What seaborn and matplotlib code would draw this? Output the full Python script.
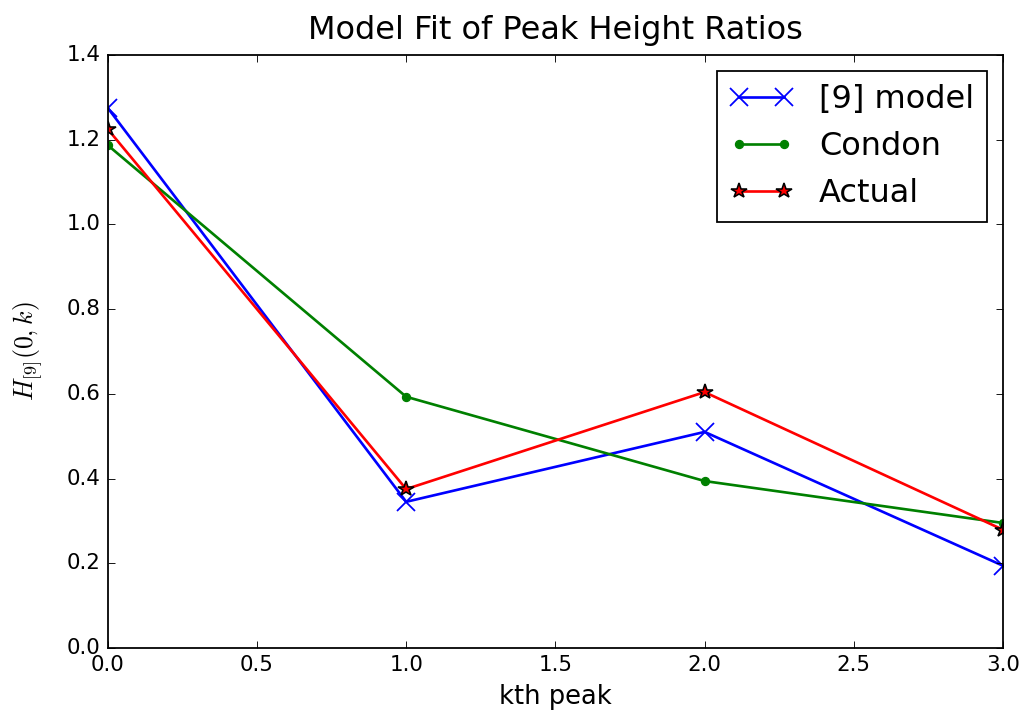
import numpy as np
import pandas as pd
import seaborn as sns
import matplotlib.pyplot as plt

# data
peaks = [0.0, 1.0, 2.0, 3.0]
model_vals = [1.275, 0.345, 0.510, 0.194]
condon_vals = [1.187, 0.593, 0.394, 0.295]
actual_vals = [1.225, 0.375, 0.604, 0.279]

plt.style.use("classic")
plt.rcParams["font.family"] = ["DejaVu Sans"]

fig = plt.figure(figsize=(1026 / 128, 728 / 128), dpi=128)
ax = fig.add_axes([0.105, 0.11, 0.8726, 0.8145])

sns.lineplot(x=peaks, y=model_vals, ax=ax, color="b", marker="x",
             markersize=10, markeredgecolor="b", markeredgewidth=1.0,
             linewidth=1.5, label="[9] model")
sns.lineplot(x=peaks, y=condon_vals, ax=ax, color="g", marker="o",
             markersize=4.5, markeredgecolor="g", linewidth=1.5, label="Condon")
sns.lineplot(x=peaks, y=actual_vals, ax=ax, color="r", marker="*",
             markersize=9, markeredgecolor="k", markeredgewidth=0.9,
             linewidth=1.5, label="Actual")

ax.set_xlim(0, 3)
ax.set_ylim(0, 1.4)
ax.set_title("Model Fit of Peak Height Ratios", fontsize=18, pad=9)
ax.set_xlabel("kth peak", fontsize=14.5)
ax.set_ylabel(r"$H_{[9]}(0,k)$", fontsize=14.5, labelpad=12)
ax.legend(loc="upper right", fontsize=18, numpoints=2)

fig.savefig("out.png", dpi=128)
